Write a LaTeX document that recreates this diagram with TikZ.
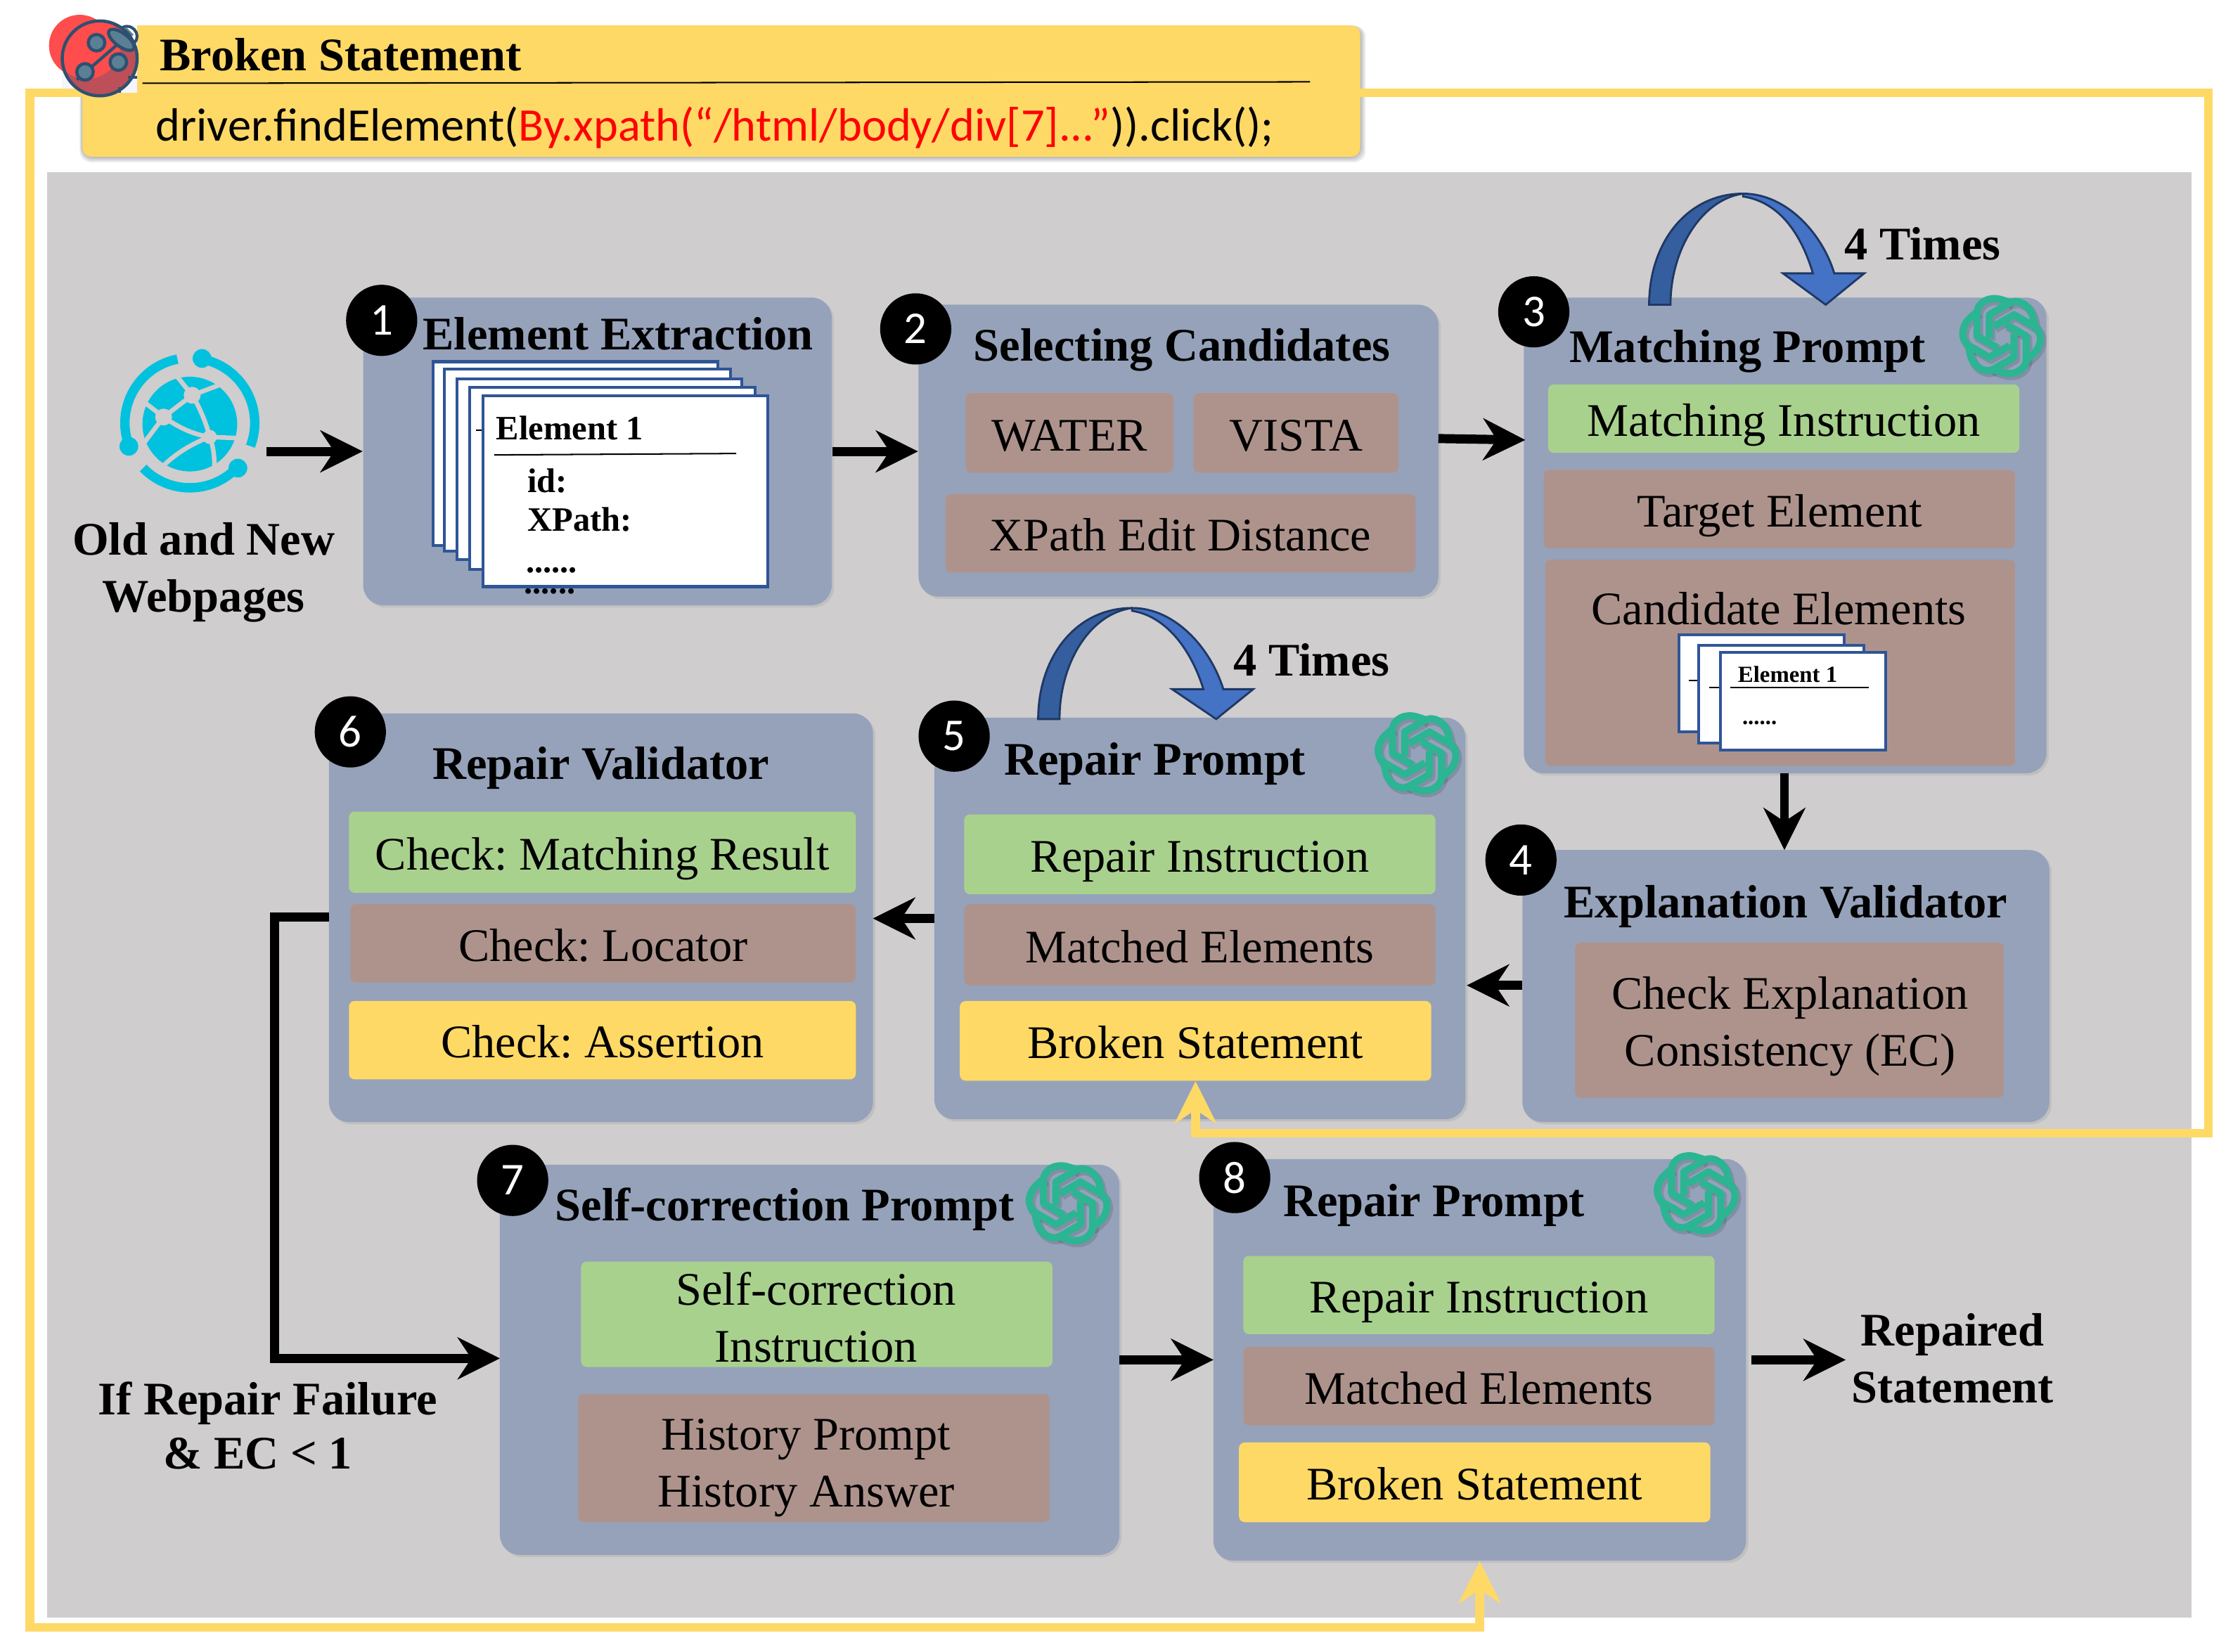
\documentclass[tikz,border=0pt]{standalone}
\usepackage{fontspec}
\setmainfont{Liberation Serif}
\newfontfamily\carl{Carlito}
\usetikzlibrary{arrows.meta,shadows,calc}
\definecolor{bgc}{HTML}{CFCDCE}
\definecolor{bluebox}{HTML}{95A2BA}
\definecolor{brownc}{HTML}{AE938D}
\definecolor{greenc}{HTML}{A9D18E}
\definecolor{yelc}{HTML}{FFD966}
\definecolor{docb}{HTML}{2F5597}
\definecolor{teal1}{HTML}{2BB592}
\definecolor{cyanc}{HTML}{00C1DE}
\definecolor{bugd}{HTML}{2E5070}
\definecolor{bugf}{HTML}{5B7F95}
\definecolor{bugr}{HTML}{FF4D4D}
\definecolor{bugc}{HTML}{BC4F58}
\definecolor{loopd}{HTML}{1F3864}
\definecolor{loopl}{HTML}{355E9F}
\definecolor{loopr}{HTML}{4472C4}
\tikzset{
 x=.5pt,y=-.5pt,
 ptxt/.style={inner sep=0pt,align=center,font=\fontsize{16.4}{20}\selectfont},
 bptxt/.style={inner sep=0pt,align=center,font=\fontsize{16.4}{20}\selectfont\bfseries},
 txt/.style={ptxt,text height=15pt,text depth=2.5pt},
 btxt/.style={bptxt,text height=14pt,text depth=2.5pt},
 outer/.style={fill=bluebox,rounded corners=7pt,inner sep=0pt,drop shadow={shadow xshift=.8pt,shadow yshift=-.8pt,opacity=.18}},
 inbox/.style={txt,rounded corners=2pt},
 green/.style={inbox,fill=greenc},
 brown/.style={inbox,fill=brownc},
 yel/.style={inbox,fill=yelc},
 badge/.style={circle,fill=black,text=white,inner sep=0pt,minimum size=25pt,font=\carl\fontsize{16}{16}\selectfont},
 flow/.style={line width=3.2pt,draw=black,-{Stealth[length=15pt,width=15pt,inset=5pt,line width=0pt]}},
 yflow/.style={line width=3pt,draw=yelc,-{Stealth[length=15pt,width=15pt,inset=5pt,line width=0pt]}},
 doc/.style={draw=docb,line width=1pt,fill=white,inner sep=0pt},
 loopa/.style={draw=loopd,line width=.7pt,fill=loopl},
 loopb/.style={draw=loopd,line width=.7pt,fill=loopr},
 dtxt/.style={font=\bfseries\fontsize{12}{12}\selectfont,inner sep=0pt,anchor=base west},
 stxt/.style={font=\bfseries\fontsize{8.1}{8.1}\selectfont,inner sep=0pt,anchor=base west},
}
\newcommand\bx[7]{%
 \pgfmathsetmacro\bxX{(#2+#4)/2}\pgfmathsetmacro\bxY{(#3+#5)/2}%
 \pgfmathsetmacro\bxW{(#4-#2)*.5}\pgfmathsetmacro\bxH{(#5-#3)*.5}%
 \node[#6,minimum width=\bxW pt,minimum height=\bxH pt] (#1) at (\bxX,\bxY) {#7};}
\newcommand\oailogo[2]{%
 \begin{scope}[shift={(#1,#2)},scale=.1646,line cap=butt,line join=round]
 \foreach \a in {0,60,...,300}{%
  \draw[black,opacity=.12,line width=3pt,shift={(8,10)},rotate=\a]
    (-18,50) -- (-105,0) -- (-105,-95) .. controls (-105,-150) and (-45,-170) .. (0,-155) .. controls (15,-150) and (30,-147) .. (42,-138);}
 \foreach \a in {0,60,...,300}{%
  \draw[teal1,line width=2.5pt,rotate=\a]
    (-18,50) -- (-105,0) -- (-105,-95) .. controls (-105,-150) and (-45,-170) .. (0,-155) .. controls (15,-150) and (30,-147) .. (42,-138);}
 \end{scope}}
\begin{document}
\frenchspacing
\begin{tikzpicture}
\useasboundingbox (0,0) rectangle (1568,1160.2);
\fill[white] (0,0) rectangle (1568,1160.2);
% grey panel
\fill[bgc] (33,121) rectangle (1539,1136);
% header
\coordinate (hl) at (58,65);
\coordinate (hr) at (955,65);
\coordinate (fTL) at (21,65);
\coordinate (fBL) at (21,1143);
\coordinate (fTR) at (1550.5,65);
\coordinate (fBR) at (1550.5,796);
\foreach \s in {1,2,3,4}{\fill[black,opacity=.07,rounded corners=4pt] (58-\s/2,18) rectangle (955+\s,110+\s);}
\bx{hdr}{58}{18}{955}{110}{fill=yelc,rounded corners=3pt,inner sep=0pt}{}
% boxes
\bx{b1}{255}{209}{584}{425}{outer}{}
\bx{b2}{645}{214}{1010}{419}{outer}{}
\bx{b3}{1070}{209}{1437}{543}{outer}{}
\bx{b4}{1069}{597}{1439}{788}{outer}{}
\bx{b5}{656}{504}{1029}{786}{outer}{}
\bx{b6}{231}{501}{613}{788}{outer}{}
\bx{b7}{351}{818}{786}{1092}{outer}{}
\bx{b8}{852}{814}{1226}{1096}{outer}{}
% inner 2
\bx{water}{678}{276}{824}{332}{brown}{WATER}
\bx{vista}{838}{276}{982}{332}{brown}{VISTA}
\bx{xed}{664}{347}{994}{402}{brown}{XPath Edit Distance}
% inner 3
\bx{mi}{1087}{270}{1418}{318}{green}{Matching Instruction}
\bx{te}{1084}{330}{1415}{385}{brown}{Target Element}
\bx{ce}{1085}{393}{1415}{538}{brown}{}
\node[txt] (cet) at (1249,426) {Candidate Elements};
% inner 4
\bx{ec}{1106}{662}{1407}{771}{brown}{}
\node[ptxt] (ect) at (1257,721) {Check Explanation\\Consistency (EC)};
% inner 5
\bx{ri5}{677}{572}{1008}{628}{green}{Repair Instruction}
\bx{me5}{677}{635}{1008}{692}{brown}{Matched Elements}
\bx{bs5}{674}{703}{1005}{759}{yel}{Broken Statement}
% inner 6
\bx{cm}{245}{570}{601}{627}{green}{Check: Matching Result}
\bx{cl}{246}{635}{601}{690}{brown}{Check: Locator}
\bx{ca}{245}{703}{601}{758}{yel}{Check: Assertion}
% inner 7
\bx{sc}{408}{886}{739}{960}{green}{}
\node[ptxt] (sct) at (573,925) {Self-correction\\Instruction};
\bx{hp}{406}{979}{737}{1069}{brown}{}
\node[ptxt] (hpt) at (566,1031) {History Prompt\\History Answer};
% inner 8
\bx{ri8}{873}{882}{1204}{937}{green}{Repair Instruction}
\bx{me8}{873}{946}{1204}{1001}{brown}{Matched Elements}
\bx{bs8}{870}{1013}{1201}{1069}{yel}{Broken Statement}
% titles
\node[btxt] (t1) at (434,234) {Element Extraction};
\node[btxt] (t2) at (830,242) {Selecting Candidates};
\node[btxt] (t3) at (1227,243) {Matching Prompt};
\node[btxt] (t4) at (1254,633) {Explanation Validator};
\node[btxt] (t5) at (811,533) {Repair Prompt};
\node[btxt] (t6) at (422,536) {Repair Validator};
\node[btxt] (t7) at (551,846) {Self-correction Prompt};
\node[btxt] (t8) at (1007,843) {Repair Prompt};
\node[bptxt] (oldnew) at (143,402) {Old and New\\Webpages};
\node[bptxt,font=\fontsize{16.4}{19}\selectfont\bfseries] (fail) at (188,1001) {If Repair Failure\\\& EC < 1\hspace*{7pt}};
\node[bptxt] (rep) at (1371,954) {Repaired\\Statement};
\node[btxt] (four3) at (1350,171) {4 Times};
\node[btxt] (four5) at (921,463) {4 Times};
% badges
\node[badge] (n1) at (268,225) {1};
\node[badge] (n2) at (643,231) {2};
\node[badge] (n3) at (1077,219) {3};
\node[badge] (n4) at (1068,604) {4};
\node[badge] (n5) at (670,517) {5};
\node[badge] (n6) at (246,514) {6};
\node[badge] (n7) at (360,829) {7};
\node[badge] (n8) at (867,827) {8};
% document stack in box 1
\bx{d1}{304}{254}{504}{383}{doc}{}
\bx{d2}{312}{259}{513}{387}{doc}{}
\bx{d3}{321}{266}{521}{393}{doc}{}
\bx{d4}{330}{272}{530}{400}{doc}{}
\node[dtxt,anchor=base] (ddb) at (386,417) {......};
\draw[line width=.5pt] (334,302) -- (339,302);
\bx{d5}{339}{278}{539}{412}{doc}{}
\node[dtxt] (e1) at (348,309) {Element 1};
\draw[line width=.5pt] (347,319.5) -- (517,318.5);
\node[dtxt] (id) at (370,346) {id:};
\node[dtxt] (xp) at (370,373) {XPath:};
\node[dtxt] (dd) at (369,402) {......};
% small stack in box 3
\bx{s1}{1179}{446}{1295}{514}{doc}{}
\draw[line width=.5pt] (1186,478) -- (1193,478);
\bx{s2}{1193}{453}{1309}{522}{doc}{}
\draw[line width=.5pt] (1200,483) -- (1208,483);
\bx{s3}{1208}{458}{1324}{527}{doc}{}
\node[stxt] (e1s) at (1220,479) {Element 1};
\draw[line width=.5pt] (1215,483) -- (1312,483);
\node[stxt] (dds) at (1223,509) {......};
% yellow frame
\draw[yflow] (hr) -- (fTR) -- (fBR) -| (bs5.south);
\draw[yflow] (hl) -- (fTL) -- (fBL) -| (b8.south);
% header on top of the frame
\fill[yelc,rounded corners=3pt] (58,18) rectangle (955,110);
\draw[line width=.5pt] (100,58.5) -- (920,57.5);
\node[btxt,anchor=west] (bstitle) at (112,38) {Broken Statement};
\node[anchor=base west,inner sep=0pt,font=\carl\fontsize{16.39}{20}\selectfont] (code) at (109,99) {driver.findElement(\textcolor{red}{By.xpath(“/html/body/div[7]...”})).click();};
% flow arrows
\coordinate (web) at (187,317);
\draw[flow] (web) -- (web-|b1.west);
\draw[flow] (b1.east) -- (b2.west|-b1.east);
\draw[flow] (1010,308) -- (1071,309);
\draw[flow] (1253,543) -- (1253,597);
\draw[flow] (1069,692) -- (1030,692);
\draw[flow] (656,645) -- (613,645);
\draw[flow] (231,644) -- (193,644) -- (193,954) -- (351,954);
\draw[flow] (786,955) -- (852,955);
\draw[flow] (1230,955) -- (1296,955);
% loop arrows
\filldraw[loopa] (1158,214) .. controls (1158,170) and (1185,136) .. (1224,136) .. controls (1195,140) and (1173,175) .. (1173,214) -- cycle;
\filldraw[loopb] (1224,136) .. controls (1255,136) and (1280,165) .. (1288,192) -- (1309,192) -- (1282,214) -- (1252,192) -- (1273,192) .. controls (1265,165) and (1250,142) .. (1224,138) -- cycle;
\filldraw[loopa] (729,505) .. controls (729,462) and (755,427) .. (795,427) .. controls (765,431) and (744,466) .. (744,505) -- cycle;
\filldraw[loopb] (795,427) .. controls (825,427) and (850,455) .. (859,484) -- (880,484) -- (854,505) -- (823,484) -- (845,484) .. controls (837,458) and (820,433) .. (795,429) -- cycle;
% chat logos
\oailogo{1405.5}{236}
\oailogo{995}{529}
\oailogo{750}{845}
\oailogo{1191}{838}
% globe
\begin{scope}[shift={(133.3,297)},scale=.1646]
\draw[cyanc,line width=3.3pt] plot[smooth,variable=\t,domain=101:201,samples=30] ({277*cos(\t)},{-277*sin(\t)});
\draw[cyanc,line width=3.3pt] plot[smooth,variable=\t,domain=79:-21,samples=30] ({277*cos(\t)},{-277*sin(\t)});
\draw[cyanc,line width=3.3pt] plot[smooth,variable=\t,domain=224:317,samples=30] ({277*cos(\t)},{-277*sin(\t)});
\fill[cyanc] (52,-275) circle[radius=40] (-260,100) circle[radius=40] (205,193) circle[radius=40];
\fill[cyanc] (0,5) circle[radius=202];
\draw[bgc,line width=1.6pt]
 (10,-118) -- (-60,-205) (10,-118) -- (135,-165) (10,-118) -- (-112,-25)
 (-112,-25) -- (-190,-85) (-112,-25) -- (-195,85)
 (-112,-25) .. controls (-40,25) and (20,50) .. (85,60)
 (10,-118) .. controls (40,-70) and (70,0) .. (85,60)
 (85,60) -- (205,65)
 (85,60) .. controls (30,80) and (-50,120) .. (-115,185)
 (85,60) .. controls (100,100) and (105,140) .. (105,185);
\fill[bgc] (10,-118) circle[radius=36] (-112,-25) circle[radius=36] (85,60) circle[radius=30];
\end{scope}
% ladybug
\fill[white!96!blue] (43.6,18) rectangle (96.3,65);
\draw[yelc,line width=3pt] (hl) -- (fTL);
\fill[bugr] (56,32) circle[radius=21.6];
\filldraw[fill=white,draw=bugd,line width=1pt] (89.2,25.5) circle[radius=7];
\draw[bugf,line width=2.5pt] (87,21) -- (92,26);
\fill[bugr] (70,41) circle[radius=26.3];
\begin{scope}
\clip (70,41) circle[radius=26.3];
\fill[bugc] (70,41) circle[radius=26.3];
\fill[bugr] (61,32) circle[radius=23.5];
\end{scope}
\draw[bugd,line width=1.1pt] (70,41) circle[radius=26.3];
\draw[bugd,line width=1.1pt] (54,56) -- (85,29);
\draw[bugd,line width=1.1pt] (90,54.3) -- (96.3,54.3) (84,61) -- (84,65);
\filldraw[fill=bugf,draw=bugd,line width=1.1pt] (67.8,30) circle[radius=5.8] (83.1,43.6) circle[radius=5.8] (59.7,50.5) circle[radius=5.8];
\filldraw[fill=bugf,draw=bugd,line width=1.1pt,rotate around={-37:(85.2,28)}] (85.2,28) ellipse[x radius=10.7,y radius=4.6];
\end{tikzpicture}
\end{document}
